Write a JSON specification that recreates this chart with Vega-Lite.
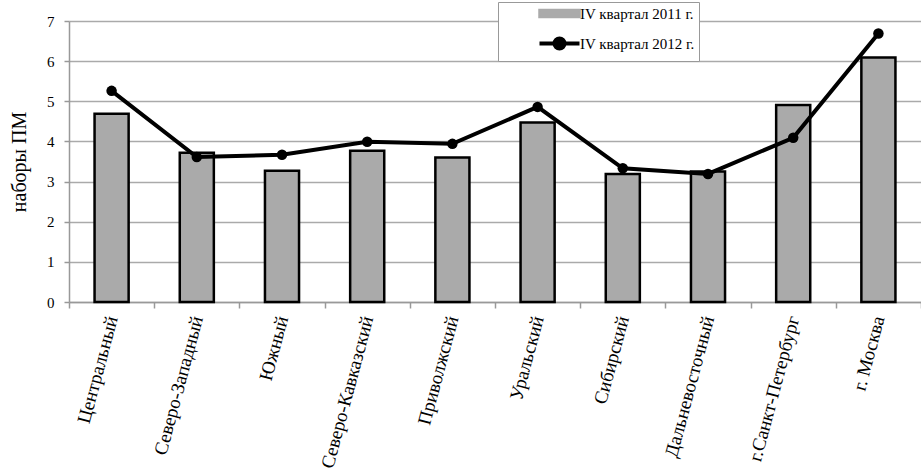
{
  "$schema": "https://vega.github.io/schema/vega-lite/v6.json",
  "width": 852,
  "height": 281,
  "autosize": {"type": "none"},
  "padding": {"left": 69, "top": 21, "right": 0, "bottom": 172},
  "background": "white",
  "config": {"view": {"stroke": null}, "font": "Liberation Serif"},
  "data": {
    "values": [
      {"region": "Центральный", "series": "IV квартал 2011 г.", "value": 4.69},
      {"region": "Северо-Западный", "series": "IV квартал 2011 г.", "value": 3.72},
      {"region": "Южный", "series": "IV квартал 2011 г.", "value": 3.27},
      {"region": "Северо-Кавказский", "series": "IV квартал 2011 г.", "value": 3.77},
      {"region": "Приволжский", "series": "IV квартал 2011 г.", "value": 3.6},
      {"region": "Уральский", "series": "IV квартал 2011 г.", "value": 4.47},
      {"region": "Сибирский", "series": "IV квартал 2011 г.", "value": 3.19},
      {"region": "Дальневосточный", "series": "IV квартал 2011 г.", "value": 3.25},
      {"region": "г.Санкт-Петербург", "series": "IV квартал 2011 г.", "value": 4.91},
      {"region": "г. Москва", "series": "IV квартал 2011 г.", "value": 6.09},
      {"region": "Центральный", "series": "IV квартал 2012 г.", "value": 5.26},
      {"region": "Северо-Западный", "series": "IV квартал 2012 г.", "value": 3.61},
      {"region": "Южный", "series": "IV квартал 2012 г.", "value": 3.67},
      {"region": "Северо-Кавказский", "series": "IV квартал 2012 г.", "value": 3.99},
      {"region": "Приволжский", "series": "IV квартал 2012 г.", "value": 3.94},
      {"region": "Уральский", "series": "IV квартал 2012 г.", "value": 4.86},
      {"region": "Сибирский", "series": "IV квартал 2012 г.", "value": 3.33},
      {"region": "Дальневосточный", "series": "IV квартал 2012 г.", "value": 3.19},
      {"region": "г.Санкт-Петербург", "series": "IV квартал 2012 г.", "value": 4.09},
      {"region": "г. Москва", "series": "IV квартал 2012 г.", "value": 6.69}
    ]
  },
  "encoding": {
    "x": {
      "field": "region",
      "type": "nominal",
      "sort": null,
      "scale": {"paddingInner": 0, "paddingOuter": 0},
      "axis": {
        "title": null,
        "tickBand": "extent",
        "labelAngle": -75,
        "labelFont": "Liberation Serif",
        "labelFontSize": 19,
        "labelColor": "black",
        "labelPadding": 8,
        "labelLimit": 300,
        "tickSize": 6,
        "tickColor": "#999999",
        "tickWidth": 1.5,
        "domainColor": "#999999",
        "domainWidth": 1.5,
        "grid": false
      }
    },
    "y": {
      "field": "value",
      "type": "quantitative",
      "scale": {"domain": [0, 7], "nice": false},
      "axis": {
        "title": "наборы ПМ",
        "titleFont": "Liberation Serif",
        "titleFontSize": 20,
        "titleFontWeight": "normal",
        "titleColor": "black",
        "titlePadding": 17,
        "values": [0, 1, 2, 3, 4, 5, 6, 7],
        "labelFont": "Liberation Serif",
        "labelFontSize": 15,
        "labelColor": "black",
        "labelPadding": 10,
        "tickSize": 5,
        "tickColor": "#999999",
        "tickWidth": 1.5,
        "domainColor": "#999999",
        "domainWidth": 1.5,
        "gridColor": "#aaaaaa",
        "gridWidth": 1.5
      }
    },
    "color": {
      "field": "series",
      "type": "nominal",
      "scale": {"domain": ["IV квартал 2011 г.", "IV квартал 2012 г."], "range": ["#aaaaaa", "#000000"]},
      "legend": {
        "title": null,
        "orient": "none",
        "legendX": 429,
        "legendY": -19,
        "direction": "vertical",
        "fillColor": "white",
        "strokeColor": "#999999",
        "padding": 4,
        "symbolSize": 400,
        "symbolOffset": 50,
        "labelOffset": 13,
        "rowPadding": 8,
        "labelFont": "Liberation Serif",
        "labelFontSize": 15,
        "labelColor": "black",
        "labelLimit": 400,
        "encode": {
          "entries": {
            "update": {
              "width": {"value": 234},
              "fill": {"value": "transparent"}
            }
          },
          "symbols": {
            "update": {
              "shape": {"signal": "datum.value === 'IV квартал 2011 г.' ? 'M-2,-0.35H2V0.35H-2Z' : 'M-2,0H2M0.5,0A0.5,0.5,0,1,1,-0.5,0A0.5,0.5,0,1,1,0.5,0'"},
              "fill": {"signal": "datum.value === 'IV квартал 2011 г.' ? '#aaaaaa' : 'black'"},
              "stroke": {"value": "black"},
              "strokeWidth": {"signal": "datum.value === 'IV квартал 2011 г.' ? 2.5 : 4"},
              "opacity": {"value": 1},
              "fillOpacity": {"value": 1},
              "strokeOpacity": {"value": 1}
            }
          }
        }
      }
    }
  },
  "layer": [
    {
      "transform": [{"filter": "datum.series === 'IV квартал 2011 г.'"}],
      "mark": {"type": "bar", "width": {"band": 0.4}, "stroke": "black", "strokeWidth": 2.5}
    },
    {
      "transform": [{"filter": "datum.series === 'IV квартал 2012 г.'"}],
      "mark": {"type": "line", "strokeWidth": 4, "point": {"filled": true, "size": 110, "opacity": 1}}
    }
  ]
}
